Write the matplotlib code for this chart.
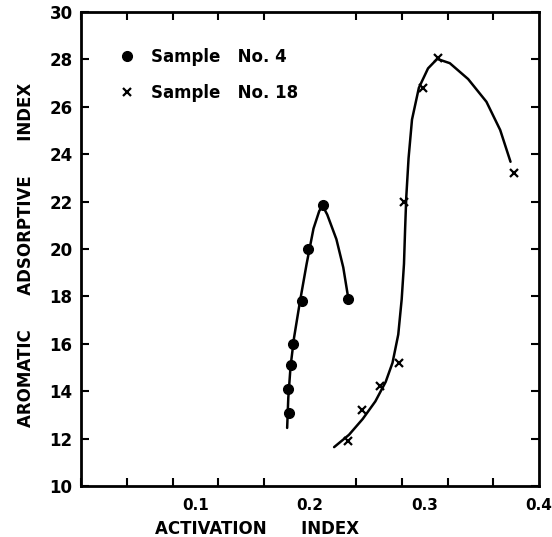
import matplotlib

matplotlib.use("Agg")
import matplotlib.pyplot as plt  # noqa: E402
from matplotlib.ticker import MultipleLocator  # noqa: E402

# measured points
s4_x = [0.182, 0.181, 0.183, 0.185, 0.193, 0.198, 0.211, 0.233]
s4_y = [13.1, 14.1, 15.1, 16.0, 17.8, 20.0, 21.85, 17.9]
s18_x = [0.233, 0.245, 0.261, 0.278, 0.282, 0.299, 0.312, 0.378]
s18_y = [11.9, 13.2, 14.2, 15.2, 22.0, 26.8, 28.05, 23.2]

# hand-drawn fit curves
c4_x = [0.180, 0.181, 0.183, 0.186, 0.191, 0.197, 0.203, 0.208, 0.211,
        0.215, 0.223, 0.229, 0.233]
c4_y = [12.45, 13.72, 15.06, 16.25, 17.73, 19.37, 20.86, 21.60, 21.82,
        21.45, 20.41, 19.22, 18.03]
c18_x = [0.221, 0.234, 0.246, 0.257, 0.266, 0.272, 0.277, 0.280, 0.282,
         0.283, 0.284, 0.286, 0.289, 0.295, 0.303, 0.311, 0.322, 0.338,
         0.354, 0.366, 0.375]
c18_y = [11.64, 12.16, 12.83, 13.57, 14.39, 15.20, 16.39, 17.88, 19.37,
         20.86, 22.19, 23.83, 25.46, 26.80, 27.62, 28.02, 27.84, 27.17,
         26.21, 25.02, 23.68]

xticks = [0.1, 0.2, 0.3, 0.4]
xticklabels = ["0.1", "0.2", "0.3", "0.4"]
labels = ["Sample   No. 4", "Sample   No. 18"]

plt.rcParams["font.family"] = ["DejaVu Sans"]
plt.rcParams["font.weight"] = "bold"

fig = plt.figure(figsize=(5.52, 5.37), dpi=100)
ax = fig.add_axes([0.1467, 0.095, 0.83, 0.8827])

ax.plot(c4_x, c4_y, color="black", lw=1.8, solid_capstyle="round")
ax.plot(c18_x, c18_y, color="black", lw=1.8, solid_capstyle="round")
h4, = ax.plot(s4_x, s4_y, "o", color="black", ms=7, ls="none")
h18, = ax.plot(s18_x, s18_y, "x", color="black", ms=6, mew=1.6, ls="none")

ax.set_xlim(0, 0.4)
ax.set_ylim(10, 30)
ax.set_xticks(xticks)
ax.set_xticklabels(xticklabels)
ax.xaxis.set_minor_locator(MultipleLocator(0.04))
ax.yaxis.set_major_locator(MultipleLocator(2))
ax.tick_params(axis="x", which="major", length=0, pad=9, labelsize=11)
ax.tick_params(axis="x", which="minor", direction="in", length=6, width=1.5,
               top=True, bottom=True)
ax.tick_params(axis="y", which="major", direction="in", length=6, width=1.5,
               left=True, right=True, labelsize=12, pad=6)
for s in ax.spines.values():
    s.set_linewidth(2)

fig.text(0.465, -0.002, "ACTIVATION      INDEX", ha="center", va="bottom",
         fontsize=12, fontweight="bold")
fig.text(0.047, 0.525, "AROMATIC      ADSORPTIVE      INDEX", ha="center",
         va="center", rotation=90, fontsize=12, fontweight="bold")

ax.legend([h4, h18], labels, loc="upper left", frameon=False,
          bbox_to_anchor=(0.05, 0.955), handlelength=1.0, handletextpad=0.9,
          labelspacing=1.05, prop={"size": 12, "weight": "bold"})

fig.savefig("out.png", dpi=100)
